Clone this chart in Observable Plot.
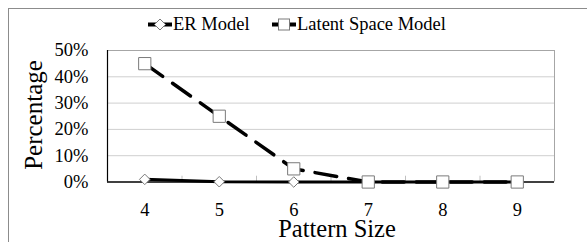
<!DOCTYPE html>
<html><head><meta charset="utf-8">
<script src="https://cdn.jsdelivr.net/npm/d3@7"></script>
<script src="https://cdn.jsdelivr.net/npm/@observablehq/plot@0.6"></script>
<style>
body{margin:0;background:#fff;}
#wrap{position:relative;width:587px;height:242px;overflow:hidden;background:#fff;font-family:"Liberation Serif",serif;color:#000;}
#wrap *{font-family:"Liberation Serif",serif !important;}
#wrap svg text{font-family:"Liberation Serif",serif !important;}
#border{position:absolute;left:8px;top:8px;width:800px;height:400px;border:1px solid #8c8c8c;box-sizing:border-box;}
#chart{position:absolute;left:0;top:0;}
.t{position:absolute;white-space:nowrap;}
.leg{position:absolute;white-space:nowrap;line-height:1;font-size:18.5px;display:flex;align-items:center;}
.leg svg{display:block;}
</style></head>
<body>
<div id="wrap">
  <div id="border"></div>
  <div id="chart"></div>
  <div class="leg" id="leg0" style="left:147px;top:15px;"></div>
  <div class="leg" id="leg1" style="left:271px;top:15px;"></div>
  <div class="t" id="ytitle" style="left:33px;top:115px;font-size:25px;line-height:1;transform:translate(-50%,-50%) rotate(-90deg);"></div>
  <div class="t" id="xtitle" style="left:337px;top:221px;font-size:24.5px;line-height:0.65;transform:translateX(-50%);"></div>
</div>
<script>
const patternSizes = [4, 5, 6, 7, 8, 9];
const erModel = [0.010, 0.001, 0.000, 0.000, 0.000, 0.000];
const latentModel = [0.45, 0.25, 0.05, 0.00, 0.00, 0.00];
const yTicks = [0, 0.1, 0.2, 0.3, 0.4, 0.5];
const seriesNames = ["ER Model", "Latent Space Model"];
const xTitle = "Pattern Size";
const yTitle = "Percentage";

const data = patternSizes.map((p, i) => ({p, er: erModel[i], ls: latentModel[i]}));
const bounds = d3.range(4.5, 9.5, 1);

const diamond = {
  draw(ctx, size) {
    const h = Math.sqrt(size / 2);
    ctx.moveTo(0, -h); ctx.lineTo(h, 0); ctx.lineTo(0, h); ctx.lineTo(-h, 0); ctx.closePath();
  }
};

const chart = Plot.plot({
  width: 587, height: 242,
  marginLeft: 107, marginRight: 33, marginTop: 50, marginBottom: 60.5,
  style: {fontFamily: "Liberation Serif, serif", fontSize: "18.5px", background: "transparent", color: "#000", overflow: "visible"},
  x: {domain: [3.5, 9.5]},
  y: {domain: [0, 0.5]},
  marks: [
    Plot.gridY(yTicks.slice(1, -1), {stroke: "#cfcfcf", strokeOpacity: 1, strokeWidth: 1}),
    Plot.ruleY([0.5], {stroke: "#a6a6a6", strokeWidth: 1}),
    Plot.ruleX([9.5], {stroke: "#a6a6a6", strokeWidth: 1}),
    Plot.ruleX(bounds, {y1: 0, y2: 0.022, stroke: "#c0c0c0", strokeWidth: 1}),
    Plot.ruleX([3.5], {stroke: "#000", strokeWidth: 1.2}),
    Plot.ruleY([0], {stroke: "#000", strokeWidth: 1.5}),
    Plot.axisY({ticks: yTicks, tickFormat: d3.format(".0%"), tickSize: 0, tickPadding: 19, label: null, fontSize: 18.5}),
    Plot.axisX({ticks: patternSizes, tickFormat: d => String(d), tickSize: 0, tickPadding: 21, label: null, fontSize: 18.5}),
    Plot.line(data, {x: "p", y: "er", stroke: "#000", strokeWidth: 3}),
    Plot.line(data, {x: "p", y: "ls", stroke: "#000", strokeWidth: 3.5, strokeDasharray: "22 12", strokeLinecap: "round"}),
    Plot.dot(data, {x: "p", y: "er", symbol: diamond, r: 4.2, fill: "#fff", stroke: "#7a7a7a", strokeWidth: 1}),
    Plot.dot(data, {x: "p", y: "ls", symbol: "square", r: 6.9, fill: "#fff", stroke: "#7a7a7a", strokeWidth: 1})
  ]
});
document.getElementById("chart").appendChild(chart);

function swatch(kind) {
  const mark = kind === 0
    ? '<path d="M13,1 L18.5,6.5 L13,12 L7.5,6.5 Z" fill="#fff" stroke="#7a7a7a" stroke-width="1"/>'
    : '<rect x="7.5" y="1" width="11" height="11" fill="#fff" stroke="#7a7a7a" stroke-width="1"/>';
  return '<svg width="26" height="13" viewBox="0 0 26 13"><line x1="1" y1="6.5" x2="25" y2="6.5" stroke="#000" stroke-width="4"/>' + mark + '</svg>';
}
seriesNames.forEach((name, i) => {
  const el = document.getElementById("leg" + i);
  el.innerHTML = swatch(i) + '<span>' + name + '</span>';
});
document.getElementById("xtitle").textContent = xTitle;
document.getElementById("ytitle").textContent = yTitle;
</script>
</body></html>
